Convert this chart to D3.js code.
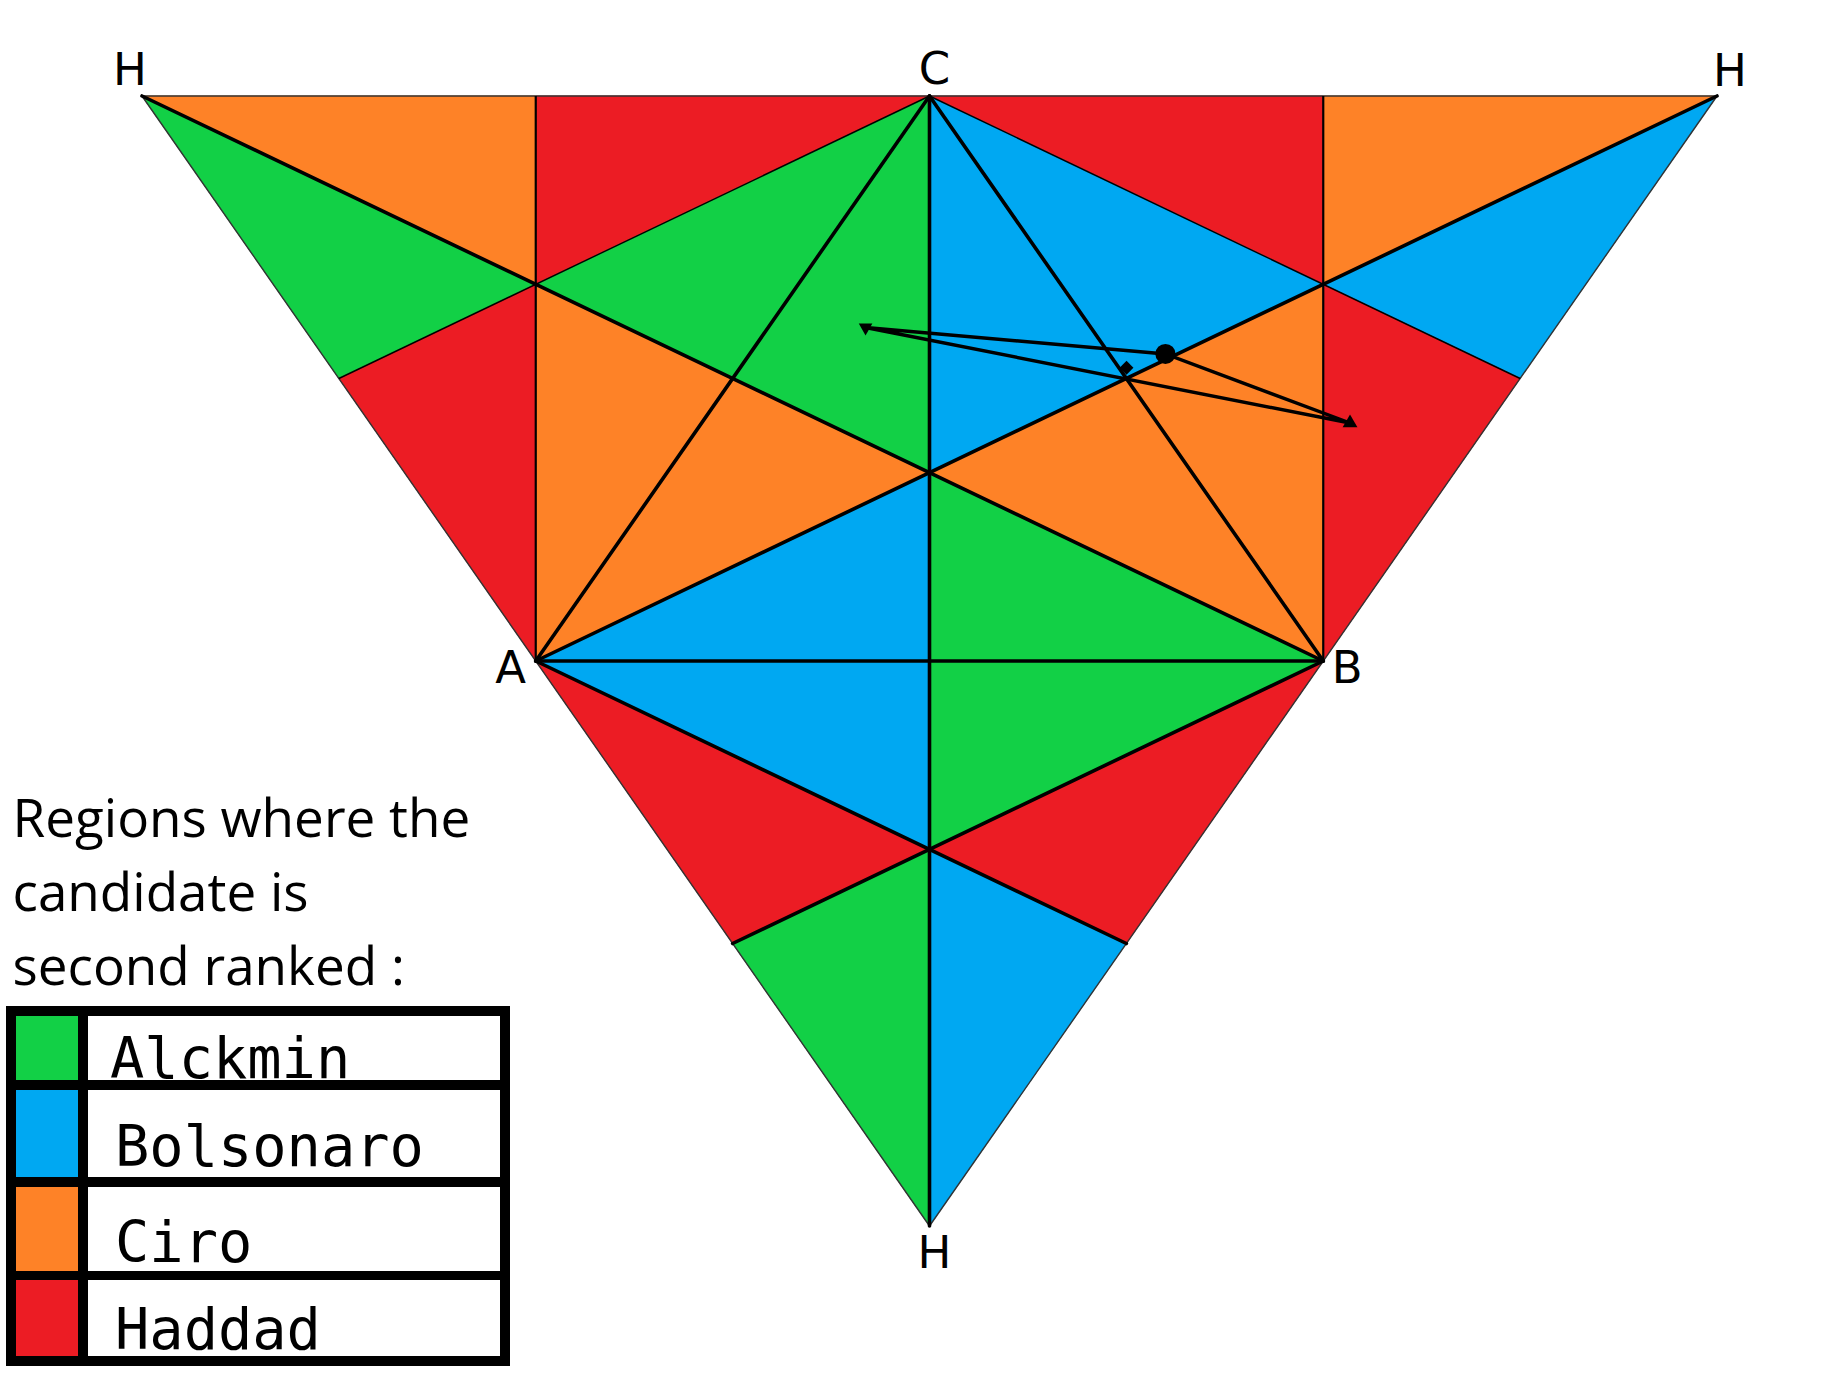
<!DOCTYPE html>
<html>
<head>
<meta charset="utf-8">
<script src="https://cdn.jsdelivr.net/npm/d3@7"></script>
<style>
  html, body { margin: 0; padding: 0; background: #ffffff; }
  svg { display: block; }
</style>
</head>
<body>
<svg id="chart" width="1834" height="1375"></svg>
<script>
// ---------- DATA ----------
// Candidates and their colours
const candidates = ["Alckmin", "Bolsonaro", "Ciro", "Haddad"];
const candidateColors = ["#12d046", "#00a8f2", "#fe8227", "#ec1c24"];

// Named points of the diagram in normalized (u, v) coordinates
const pointNames = ["HL", "P2", "C", "P4", "HR", "Q1", "Q2", "R1", "R2", "O", "A", "B", "M", "N", "S1", "S2", "HB"];
const pointU = [0, 0.25, 0.5, 0.75, 1, 0.25, 0.75, 0.125, 0.875, 0.5, 0.25, 0.75, 0.5, 0.5, 0.375, 0.625, 0.5];
const pointV = [0, 0, 0, 0, 0, 1 / 6, 1 / 6, 0.25, 0.25, 1 / 3, 0.5, 0.5, 0.5, 2 / 3, 0.75, 0.75, 1];

// Regions (polygons) and the candidate who is second ranked there
const regionVertices = [
  ["HL", "P2", "Q1"], ["HL", "Q1", "R1"], ["P2", "C", "Q1"], ["C", "Q1", "O"],
  ["Q1", "R1", "A"], ["Q1", "O", "A"], ["A", "O", "N"], ["A", "N", "S1"], ["S1", "N", "HB"],
  ["P4", "HR", "Q2"], ["HR", "Q2", "R2"], ["C", "P4", "Q2"], ["C", "Q2", "O"],
  ["Q2", "R2", "B"], ["Q2", "O", "B"], ["B", "O", "N"], ["B", "N", "S2"], ["N", "S2", "HB"]
];
const regionSecond = [
  "Ciro", "Alckmin", "Haddad", "Alckmin",
  "Haddad", "Ciro", "Bolsonaro", "Haddad", "Alckmin",
  "Ciro", "Bolsonaro", "Haddad", "Bolsonaro",
  "Haddad", "Ciro", "Alckmin", "Haddad", "Bolsonaro"
];

// Boundary segments
const majorSegments = [["HL", "B"], ["HR", "A"], ["C", "A"], ["C", "B"], ["C", "HB"], ["A", "B"], ["A", "S2"], ["B", "S1"]];
const minorSegments = [["HL", "HR"], ["HL", "HB"], ["HR", "HB"], ["C", "R1"], ["C", "R2"], ["P2", "A"], ["P4", "B"]];

// Vertex labels
const labelPoints = ["HL", "C", "HR", "A", "B", "HB"];
const labelTexts = ["H", "C", "H", "A", "B", "H"];

// Trajectory of results (closed path) and its markers
const trajU = [0.4594, 0.6498, 0.7670];
const trajV = [0.2049, 0.2283, 0.2894];
const trajSymbols = ["triangleDown", "circle", "triangleUp"];
const extraU = [0.6251];
const extraV = [0.2405];
const extraSymbols = ["diamond"];

// Legend title lines
const legendTitle = ["Regions where the", "candidate is", "second ranked :"];

// ---------- DRAW ----------
const svg = d3.select("#chart");
const x = d3.scaleLinear().domain([0, 1]).range([142, 1717]);
const y = d3.scaleLinear().domain([0, 1]).range([96, 1226]);
const color = d3.scaleOrdinal().domain(candidates).range(candidateColors);

const pt = {};
pointNames.forEach((n, i) => { pt[n] = [x(pointU[i]), y(pointV[i])]; });

const line = d3.line();

// Regions
svg.append("g").selectAll("path")
  .data(regionVertices)
  .join("path")
  .attr("d", d => line(d.map(n => pt[n])) + "Z")
  .attr("fill", (d, i) => color(regionSecond[i]))
  .attr("stroke", (d, i) => color(regionSecond[i]))
  .attr("stroke-width", 0.8)
  .attr("stroke-linejoin", "round");

// Minor boundaries
svg.append("g").selectAll("line")
  .data(minorSegments)
  .join("line")
  .attr("x1", d => pt[d[0]][0]).attr("y1", d => pt[d[0]][1])
  .attr("x2", d => pt[d[1]][0]).attr("y2", d => pt[d[1]][1])
  .attr("stroke", (d, i) => i < 3 ? "#333" : "#000")
  .attr("stroke-width", (d, i) => i < 3 ? 1.4 : (i < 5 ? 1.4 : 2.2));

// Major boundaries
svg.append("g").selectAll("line")
  .data(majorSegments)
  .join("line")
  .attr("x1", d => pt[d[0]][0]).attr("y1", d => pt[d[0]][1])
  .attr("x2", d => pt[d[1]][0]).attr("y2", d => pt[d[1]][1])
  .attr("stroke", "#000")
  .attr("stroke-width", 3.6)
  .attr("stroke-linecap", "round");

// Trajectory
const trajPts = trajU.map((u, i) => [x(u), y(trajV[i])]);
svg.append("path")
  .attr("d", line(trajPts) + "Z")
  .attr("fill", "none")
  .attr("stroke", "#000")
  .attr("stroke-width", 3.4)
  .attr("stroke-linejoin", "miter");

function symbolPath(kind) {
  if (kind === "circle") return d3.symbol(d3.symbolCircle, 320)();
  if (kind === "diamond") return d3.symbol(d3.symbolSquare, 95)();
  if (kind === "triangleDown") return d3.symbol(d3.symbolTriangle, 80)();
  return d3.symbol(d3.symbolTriangle, 95)();
}
function symbolRot(kind) {
  if (kind === "triangleDown") return 180;
  if (kind === "diamond") return 45;
  return 0;
}
svg.append("g").selectAll("path")
  .data(trajSymbols.map((s, i) => ({ s, p: trajPts[i] }))
    .concat(extraSymbols.map((s, i) => ({ s, p: [x(extraU[i]), y(extraV[i])] }))))
  .join("path")
  .attr("d", d => symbolPath(d.s))
  .attr("transform", d => `translate(${d.p[0]},${d.p[1]}) rotate(${symbolRot(d.s)})`)
  .attr("fill", "#000");

// Vertex labels
const labelOffsets = { HL: [-12, -11], C: [5, -12], HR: [13, -10], A: [-25, 22], B: [24, 22], HB: [5, 42] };
svg.append("g").selectAll("text")
  .data(labelPoints)
  .join("text")
  .attr("x", d => pt[d][0] + labelOffsets[d][0])
  .attr("y", d => pt[d][1] + labelOffsets[d][1])
  .attr("text-anchor", "middle")
  .attr("font-family", "DejaVu Sans")
  .attr("font-size", 45)
  .attr("fill", "#000")
  .text((d, i) => labelTexts[i]);

// Legend title
svg.append("g").selectAll("text")
  .data(legendTitle)
  .join("text")
  .attr("x", 12.5)
  .attr("y", (d, i) => 837 + i * 74)
  .attr("font-family", "Open Sans")
  .attr("font-size", 53)
  .attr("fill", "#000")
  .text(d => d);

// Legend box
const legendRows = [[1016, 1080], [1090, 1177], [1187, 1271], [1280, 1356]];
const legendBaselines = [1078, 1166, 1262, 1349];
const legendTextX = [110, 115, 115, 115];
const lg = svg.append("g");
lg.append("rect").attr("x", 6).attr("y", 1006).attr("width", 504).attr("height", 360).attr("fill", "#000");
candidates.forEach((c, i) => {
  const [y0, y1] = legendRows[i];
  lg.append("rect").attr("x", 16).attr("y", y0).attr("width", 62).attr("height", y1 - y0).attr("fill", color(c));
  lg.append("rect").attr("x", 88).attr("y", y0).attr("width", 412).attr("height", y1 - y0).attr("fill", "#fff");
  lg.append("text")
    .attr("x", legendTextX[i])
    .attr("y", legendBaselines[i])
    .attr("font-family", "DejaVu Sans Mono")
    .attr("font-size", 57)
    .attr("fill", "#000")
    .text(c);
});
</script>
</body>
</html>
